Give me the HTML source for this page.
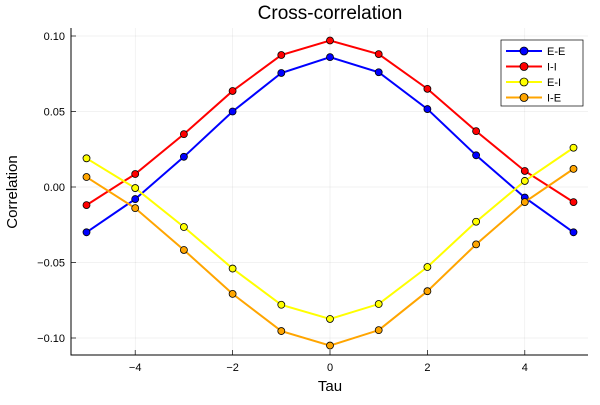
<!DOCTYPE html>
<html><head><meta charset="utf-8"><style>
body{margin:0;background:#fff;font-family:"Liberation Sans",sans-serif}
svg text{font-family:"Liberation Sans",sans-serif}
</style></head><body>
<svg id="c" width="600" height="400"></svg>
<script>
const taus=[-5,-4,-3,-2,-1,0,1,2,3,4,5];
const seriesNames=["E-E","I-I","E-I","I-E"];
const seriesColors=["#0000ff","#ff0000","#ffff00","#ffa500"];
const eeVals=[-0.030,-0.008,0.020,0.050,0.0755,0.086,0.076,0.0516,0.021,-0.007,-0.030];
const iiVals=[-0.012,0.0086,0.035,0.0636,0.0874,0.097,0.088,0.065,0.037,0.0106,-0.010];
const eiVals=[0.019,-0.0007,-0.0265,-0.054,-0.078,-0.0874,-0.0775,-0.053,-0.023,0.004,0.026];
const ieVals=[0.0066,-0.014,-0.0417,-0.0708,-0.0954,-0.105,-0.0948,-0.069,-0.038,-0.010,0.012];
const xTicks=[-4,-2,0,2,4];
const yTicks=[0.10,0.05,0.00,-0.05,-0.10];
const yTickLabels=["0.10","0.05","0.00","−0.05","−0.10"];
const xTickLabels=["−4","−2","0","2","4"];
const allVals=[eeVals,iiVals,eiVals,ieVals];
const L=71,R=588,T=28,B=355;
const X=v=>330+v*48.7;
const Y=v=>187-v*1510;
const NS="http://www.w3.org/2000/svg";
const svg=document.getElementById('c');
function mk(t,a,p){const e=document.createElementNS(NS,t);for(const k in a)e.setAttribute(k,a[k]);(p||svg).appendChild(e);return e;}
xTicks.forEach((t,i)=>{
 const g=mk('line',{x1:X(t),x2:X(t),y1:T,y2:B,stroke:'#000','stroke-opacity':0.1,'stroke-width':0.5});
 
 
 const tx=mk('text',{x:X(t),y:B+16,'text-anchor':'middle','font-size':11});tx.textContent=xTickLabels[i];
 
 
 mk('line',{x1:X(t),x2:X(t),y1:B,y2:B-5,stroke:'#000','stroke-width':0.7});
});
yTicks.forEach((t,i)=>{
 const g=mk('line',{x1:L,x2:R,y1:Y(t),y2:Y(t),stroke:'#000','stroke-opacity':0.1,'stroke-width':0.5});
 
 
 const tx=mk('text',{x:L-6,y:Y(t)+4,'text-anchor':'end','font-size':11});tx.textContent=yTickLabels[i];
 
 
 mk('line',{x1:L,x2:L+5,y1:Y(t),y2:Y(t),stroke:'#000','stroke-width':0.7});
});
const ax=mk('path',{d:`M${L},${T}V${B}H${R}`,fill:'none',stroke:'#000','stroke-width':1});


allVals.forEach((vals,s)=>{
 const d=vals.map((v,i)=>(i?'L':'M')+X(taus[i])+','+Y(v)).join('');
 const p=mk('path',{d,fill:'none',stroke:seriesColors[s],'stroke-width':2});
 
 
 vals.forEach((v,i)=>{
  const c=mk('circle',{cx:X(taus[i]),cy:Y(v),r:3.5,fill:seriesColors[s],stroke:'#000','stroke-width':0.8});
  
  
 });
});
const lg=mk('g',{});


mk('rect',{x:501,y:40,width:82,height:66,fill:'#fff',stroke:'#000','stroke-width':0.7},lg);
seriesNames.forEach((n,s)=>{
 const y=51+s*15.5;
 mk('line',{x1:506,x2:542,y1:y,y2:y,stroke:seriesColors[s],'stroke-width':2},lg);
 mk('circle',{cx:524,cy:y,r:4,fill:seriesColors[s],stroke:'#000','stroke-width':0.8},lg);
 const t=mk('text',{x:547,y:y+4,'font-size':11},lg);t.textContent=n;
 
 
});
const ti=mk('text',{x:330,y:19,'text-anchor':'middle','font-size':19});ti.textContent='Cross-correlation';


const xt=mk('text',{x:330,y:391,'text-anchor':'middle','font-size':15});xt.textContent='Tau';


const yt=mk('text',{x:17,y:192,'text-anchor':'middle','font-size':15,transform:'rotate(-90 17 192)'});yt.textContent='Correlation';


</script>
</body></html>
